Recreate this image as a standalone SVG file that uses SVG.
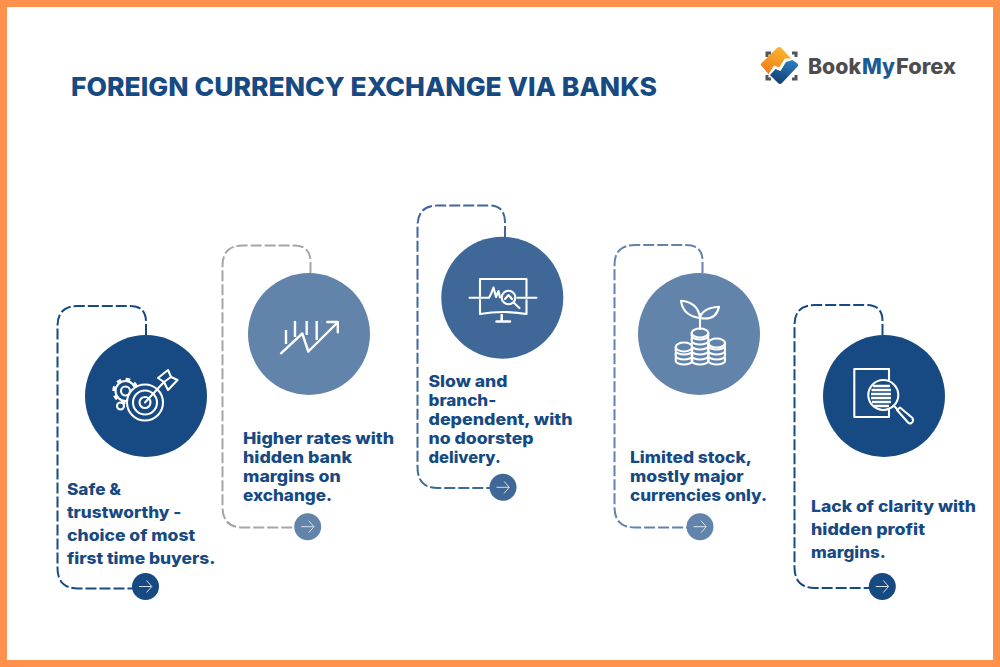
<svg xmlns="http://www.w3.org/2000/svg" width="1000" height="667" viewBox="0 0 1000 667">
<style>
.t{font-family:"Inter","Liberation Sans",sans-serif;font-weight:800;font-size:16px;fill:#174a82}
.title{font-family:"Inter","Liberation Sans",sans-serif;font-weight:800;font-size:26px;fill:#174a82}
.logo{font-family:"Inter","Liberation Sans",sans-serif;font-weight:800;font-size:21px;fill:#4d4d4f}
.c{fill:none;stroke-width:2;stroke-dasharray:11 3}
.i{fill:none;stroke:#fff;stroke-width:2.100;stroke-linecap:round;stroke-linejoin:round}
.a{fill:none;stroke:#d5e0ec;stroke-width:1}
</style>
<defs>
<linearGradient id="go" x1="0.7" y1="0" x2="0.2" y2="1"><stop offset="0" stop-color="#fbb72c"/><stop offset="1" stop-color="#ee7a1b"/></linearGradient>
<linearGradient id="gb" x1="0.7" y1="0" x2="0.3" y2="1"><stop offset="0" stop-color="#2a7dc0"/><stop offset="1" stop-color="#123f70"/></linearGradient>
<g id="arrow"><path class="a" d="M-6.500 0H6M1 -6L6.300 0L1 6"/></g>
<g id="coin"><path d="M-8.300 0V3C-8.300 5 -4 6.500 0 6.500S8.300 5 8.300 3V0"/></g>
</defs>
<rect x="3.500" y="3.500" width="993" height="660" fill="#fff" stroke="#ff914d" stroke-width="7"/>
<text class="title" x="71" y="96" textLength="586" lengthAdjust="spacingAndGlyphs">FOREIGN CURRENCY EXCHANGE VIA BANKS</text>
<g id="logo">
<path d="M767 57V53H771M792 53H796V57M796 75V79H792M771 79H767V75" fill="none" stroke="#555" stroke-width="3"/>
<path d="M761.500 63.300L777 48Q779.300 46 781.500 48L791 58.500H785L779 67.500L774 65.500L768.500 74L761.500 66Q760 64.500 761.500 63.300Z" fill="url(#go)"/>
<path d="M797.500 63.500Q799 65 797.500 66.500L782 83Q780 85 778 83L770 75L775.500 69L780.500 71L786 62L792.500 60Z" fill="url(#gb)"/>
<text class="logo" x="808" y="73.500" textLength="53" lengthAdjust="spacingAndGlyphs">Book</text>
<text class="logo" x="862" y="73.500" textLength="33" lengthAdjust="spacingAndGlyphs" style="fill:#1c5a96">My</text>
<text class="logo" x="896" y="73.500" textLength="60" lengthAdjust="spacingAndGlyphs">Forex</text>
</g>
<g id="connectors">
<path class="c" stroke="#174a82" d="M146 335V322Q146 306 130 306H78Q57.500 306 57.500 326V568Q57.500 588.500 78 588.500H133"/>
<path class="c" stroke="#a6a6a6" d="M310.500 273V262Q310.500 245.500 294 245.500H243Q222.500 245.500 222.500 266V507Q222.500 527.500 243 527.500H295"/>
<path class="c" stroke="#3f6898" d="M505 237V222Q505 205.500 489 205.500H438Q417.500 205.500 417.500 226V467Q417.500 488 438 488H490"/>
<path class="c" stroke="#6284ab" d="M702.500 273V261Q702.500 245 686 245H635Q614.500 245 614.500 265V507Q614.500 527.500 635 527.500H687"/>
<path class="c" stroke="#174a82" d="M882.500 335V321Q882.500 305 866 305H815Q794.500 305 794.500 325V567Q794.500 588 815 588H869"/>
</g>
<g id="node-1">
<circle cx="146" cy="396" r="61" fill="#174a82"/>
<g class="i">
<circle cx="125.500" cy="391" r="10"/>
<circle cx="125.500" cy="391" r="11.500" stroke-width="3.500" stroke-dasharray="4.500 4.500" stroke-linecap="butt"/>
<circle cx="125.500" cy="391" r="4.500"/>
<circle cx="120.500" cy="406" r="3.500"/>
<circle cx="145" cy="402.500" r="18" fill="#174a82"/><circle cx="145" cy="402.500" r="12"/><circle cx="145" cy="402.500" r="5.500"/>
<path d="M145 402.500L164 382M164 382L158 378L168 370L171 377L177.500 380L168 390ZM164 382L171 377"/>
</g>
<text class="t" x="67" y="495" textLength="54" lengthAdjust="spacingAndGlyphs">Safe &amp;</text>
<text class="t" x="67" y="518" textLength="114.300" lengthAdjust="spacingAndGlyphs">trustworthy -</text>
<text class="t" x="67" y="541" textLength="128.300" lengthAdjust="spacingAndGlyphs">choice of most</text>
<text class="t" x="67" y="564" textLength="148.300" lengthAdjust="spacingAndGlyphs">first time buyers.</text>
<circle cx="145.500" cy="586.500" r="13.500" fill="#174a82"/><use href="#arrow" x="145.500" y="586.500"/>
</g>
<g id="node-2">
<circle cx="309" cy="334" r="61" fill="#6284ab"/>
<g class="i" style="stroke-width:2.400">
<path d="M281 353.300L302.300 333.500L308.300 351.500L337.500 322.500M327.300 322H337.800V332.300"/>
<path d="M286 330V344M295 321V337M306.700 321V335M316.700 321V340" stroke-linecap="butt"/>
</g>
<text class="t" x="243" y="444" textLength="151" lengthAdjust="spacingAndGlyphs">Higher rates with</text>
<text class="t" x="243" y="463" textLength="109" lengthAdjust="spacingAndGlyphs">hidden bank</text>
<text class="t" x="243" y="482" textLength="97.700" lengthAdjust="spacingAndGlyphs">margins on</text>
<text class="t" x="243" y="501" textLength="89" lengthAdjust="spacingAndGlyphs">exchange.</text>
<circle cx="307.700" cy="526.700" r="13.500" fill="#6284ab"/><use href="#arrow" x="307.700" y="526.700"/>
</g>
<g id="node-3">
<circle cx="502.300" cy="297.700" r="61" fill="#3f6898"/>
<g class="i">
<path d="M480 296V279H526.500V296M526.500 300V314Q503 310 480 314V300"/>
<path d="M469.500 297.700H489L491 294L493.500 287.500L496 297L498.500 291L500 297.500M517.500 297.700H536.500"/>
<circle cx="508.500" cy="297.500" r="6.800"/><path d="M513.500 302.500L519.500 308M505 299L508.500 295L512 299"/>
<path d="M501.700 315V320M496.500 321.500H510" stroke-width="2.500"/>
</g>
<text class="t" x="428.500" y="387" textLength="79" lengthAdjust="spacingAndGlyphs">Slow and</text>
<text class="t" x="428.500" y="406" textLength="67.700" lengthAdjust="spacingAndGlyphs">branch-</text>
<text class="t" x="428.500" y="425" textLength="144" lengthAdjust="spacingAndGlyphs">dependent, with</text>
<text class="t" x="428.500" y="444" textLength="105" lengthAdjust="spacingAndGlyphs">no doorstep</text>
<text class="t" x="428.500" y="463" textLength="72.300" lengthAdjust="spacingAndGlyphs">delivery.</text>
<circle cx="503" cy="487.300" r="13.500" fill="#3f6898"/><use href="#arrow" x="503" y="487.300"/>
</g>
<g id="node-4">
<circle cx="699" cy="334" r="61" fill="#6284ab"/>
<g class="i">
<path d="M700 329V314M700 318Q698 302 681 300.700Q683 316 700 318ZM700 318Q702 308 719 306.700Q716 321 700 318Z"/>
<ellipse cx="700" cy="333" rx="8.300" ry="4.500"/>
<ellipse cx="684" cy="347" rx="8.300" ry="4.500"/>
<ellipse cx="716.700" cy="343" rx="8.300" ry="4.500"/>
<use href="#coin" x="700" y="333"/><use href="#coin" x="700" y="338"/><use href="#coin" x="700" y="343"/><use href="#coin" x="700" y="348"/><use href="#coin" x="700" y="353"/><use href="#coin" x="700" y="358"/>
<use href="#coin" x="684" y="348"/><use href="#coin" x="684" y="353"/><use href="#coin" x="684" y="358"/>
<use href="#coin" x="716.700" y="343"/><use href="#coin" x="716.700" y="348"/><use href="#coin" x="716.700" y="353"/><use href="#coin" x="716.700" y="358"/>
</g>
<text class="t" x="630" y="463" textLength="122" lengthAdjust="spacingAndGlyphs">Limited stock,</text>
<text class="t" x="630" y="482" textLength="113.700" lengthAdjust="spacingAndGlyphs">mostly major</text>
<text class="t" x="630" y="501" textLength="137" lengthAdjust="spacingAndGlyphs">currencies only.</text>
<circle cx="700" cy="526.700" r="13.500" fill="#6284ab"/><use href="#arrow" x="700" y="526.700"/>
</g>
<g id="node-5">
<circle cx="884" cy="396" r="61" fill="#174a82"/>
<g class="i">
<path d="M889 380V369H854.300V417H889V410"/>
<circle cx="883.300" cy="395" r="15" fill="#174a82"/>
<path d="M873 386H890M871.500 390H891M871 394H891M871 398H891M872 402H891M874 406H889" stroke-width="2.400" stroke-linecap="butt"/>
<path d="M894 406L898 410"/>
<path d="M897 410L900 407.500L912.500 418Q914 421 911.500 423Q909.500 424 908 422.500Z"/>
</g>
<text class="t" x="811" y="512" textLength="165" lengthAdjust="spacingAndGlyphs">Lack of clarity with</text>
<text class="t" x="811" y="535" textLength="114" lengthAdjust="spacingAndGlyphs">hidden profit</text>
<text class="t" x="811" y="558" textLength="74.700" lengthAdjust="spacingAndGlyphs">margins.</text>
<circle cx="882.300" cy="586.500" r="13.500" fill="#174a82"/><use href="#arrow" x="882.300" y="586.500"/>
</g>
</svg>
